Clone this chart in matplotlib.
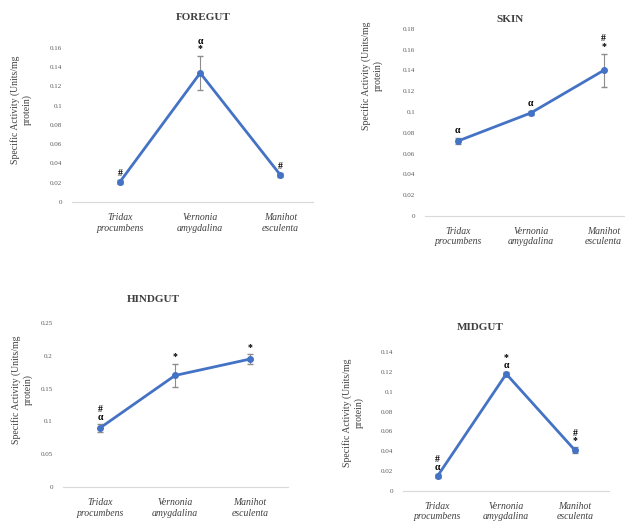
import matplotlib.pyplot as plt

plt.rcParams['font.family'] = ['Liberation Serif', 'DejaVu Serif']

# data
plants = ['Tridax\nprocumbens', 'Vernonia\namygdalina', 'Manihot\nesculenta']

foregut = [0.021, 0.134, 0.028]
foregut_err = [0.002, 0.018, 0.002]
foregut_marks = ['#', 'α\n*', '#']

skin = [0.072, 0.099, 0.140]
skin_err = [0.003, 0.002, 0.016]
skin_marks = ['α', 'α', '#\n*']

hindgut = [0.090, 0.170, 0.195]
hindgut_err = [0.006, 0.018, 0.007]
hindgut_marks = ['#\nα', '*', '*']

midgut = [0.015, 0.118, 0.041]
midgut_err = [0.002, 0.002, 0.003]
midgut_marks = ['#\nα', '*\nα', '#\n*']

W, H = 625, 524
panels = [
    # title, values, errors, marks, axes rect, ymax, step, title xy (px), ylabel xy (px), xlim
    ('FOREGUT', foregut, foregut_err, foregut_marks, [0.115, 0.6145, 0.385, 0.294], 0.16, 0.02, (203, 18), (21, 110), (-0.6, 2.4)),
    ('SKIN', skin, skin_err, skin_marks, [0.68, 0.588, 0.35, 0.357], 0.18, 0.02, (510, 19), (372, 76), (-0.45, 2.55)),
    ('HINDGUT', hindgut, hindgut_err, hindgut_marks, [0.10, 0.0706, 0.36, 0.313], 0.25, 0.05, (153, 300), (22, 390), (-0.5, 2.5)),
    ('MIDGUT', midgut, midgut_err, midgut_marks, [0.645, 0.063, 0.33, 0.265], 0.14, 0.02, (480, 327), (353, 413), (-0.5, 2.5)),
]

fig = plt.figure(figsize=(6.25, 5.24), dpi=100)

for title, vals, errs, marks, rect, ymax, step, tpos, lpos, xl in panels:
    ax = fig.add_axes(rect)
    x = range(len(plants))
    ax.errorbar(x, vals, yerr=errs, color='#4472C4', lw=2, marker='o', ms=4,
                ecolor='#8c8c8c', elinewidth=0.8, capsize=2)
    for i, (v, e, m) in enumerate(zip(vals, errs, marks)):
        ax.text(i, v + e + ymax * 0.015, m, ha='center', va='bottom',
                fontsize=7, fontweight='bold', linespacing=0.8)
    ax.set_xlim(*xl)
    ax.set_ylim(0, ymax)
    ticks = [round(step * k, 2) for k in range(int(round(ymax / step)) + 1)]
    ax.set_yticks(ticks)
    ax.set_yticklabels(['0' if t == 0 else ('%g' % t) for t in ticks],
                       fontsize=5, color='#595959')
    ax.set_xticks(list(x))
    ax.set_xticklabels(plants, fontsize=7, style='italic', color='#404040')
    ax.tick_params(axis='y', length=0, pad=7)
    ax.tick_params(axis='x', length=0, pad=8)
    for s in ['top', 'right', 'left']:
        ax.spines[s].set_visible(False)
    ax.spines['bottom'].set_color('#d9d9d9')
    fig.text(lpos[0] / W, 1 - lpos[1] / H, 'Specific Activity (Units/mg\nprotein)',
             rotation=90, ha='center', va='center', fontsize=7, color='#404040')
    fig.text(tpos[0] / W, 1 - tpos[1] / H, title, ha='center', va='center',
             fontsize=8, fontweight='bold', color='#404040')

fig.savefig('out.png', dpi=100, facecolor='white')
